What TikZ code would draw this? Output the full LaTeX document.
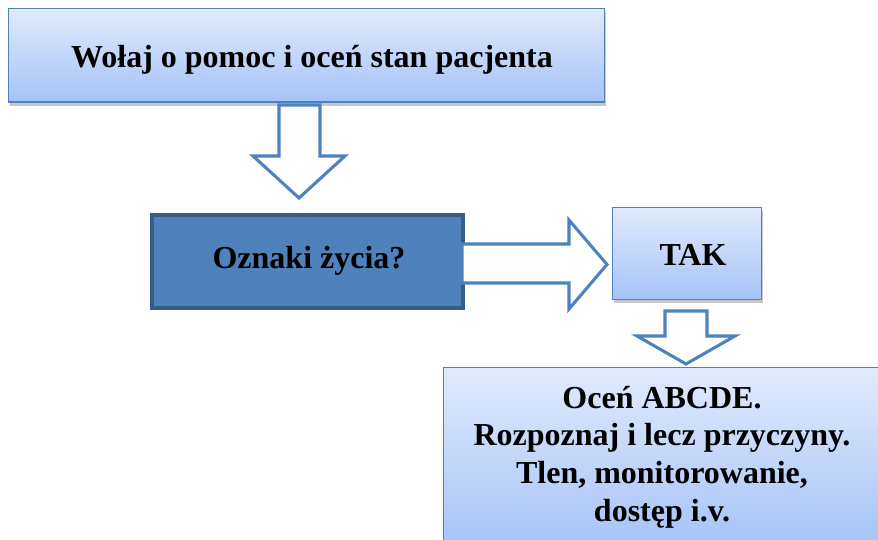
\documentclass[tikz,border=0pt]{standalone}
\usepackage{fontspec}
\setmainfont{Liberation Serif}
\usetikzlibrary{positioning}

\definecolor{boxblue}{RGB}{79,129,189}
\definecolor{boxdark}{RGB}{56,93,138}
\definecolor{gradtop}{RGB}{225,234,252}
\definecolor{gradbot}{RGB}{164,195,248}
\definecolor{shadowgray}{RGB}{200,200,200}

\tikzset{
	stepbox/.style={draw=boxblue, line width=1.1pt, top color=gradtop, bottom color=gradbot, inner sep=0pt},
	keybox/.style={draw=boxdark, line width=3pt, fill=boxblue, inner sep=0pt},
	steptext/.style={font=\bfseries\fontsize{24}{28.3}\selectfont, align=center, text=black},
	blockarrow/.style={draw=boxblue, line width=2.3pt, fill=white, line join=miter},
	boxshadow/.style={fill=shadowgray, draw=none}
}

\begin{document}
\begin{tikzpicture}[x=0.75pt,y=-0.75pt]
	
	\useasboundingbox (0,0) rectangle (878,539);
	\clip (0,0) rectangle (878,539);
	
	% shadows
	\fill[boxshadow] (10,12) rectangle (606,105.5);
	\fill[boxshadow] (614,211) rectangle (763,302.5);
	
	% boxes
	\node[stepbox, anchor=north west, minimum width=447pt, minimum height=70pt] (call) at (8,8) {};
	\node[steptext] (calltext) at (312,60) {Wołaj o pomoc i oceń stan pacjenta};
	
	\node[keybox, anchor=north west, minimum width=233.25pt, minimum height=69.75pt] (signs) at (150,213) {};
	\node[steptext] (signstext) at (309,261) {Oznaki życia?};
	
	\node[stepbox, anchor=north west, minimum width=111.75pt, minimum height=69pt] (yes) at (612,207) {};
	\node[steptext] (yestext) at (693,255) {TAK};
	
	\node[stepbox, anchor=north west, minimum width=330pt, minimum height=136pt] (assess) at (443,367) {};
	\node[steptext] (assesstext) at (662,457) {Oceń ABCDE.\\Rozpoznaj i lecz przyczyny.\\Tlen, monitorowanie,\\dostęp i.v.};
	
	% block arrows
	\draw[blockarrow] (279,105) -- (320,105) -- (320,156) -- (345,156) -- (299,198) -- (253,156) -- (279,156) -- cycle;
	\draw[blockarrow] (462,244) -- (569,244) -- (569,220) -- (607,264.5) -- (569,309) -- (569,283) -- (462,283) -- cycle;
	\draw[blockarrow] (665,311) -- (707,311) -- (707,336) -- (735,336) -- (686,364) -- (637,336) -- (665,336) -- cycle;
	
\end{tikzpicture}
\end{document}
